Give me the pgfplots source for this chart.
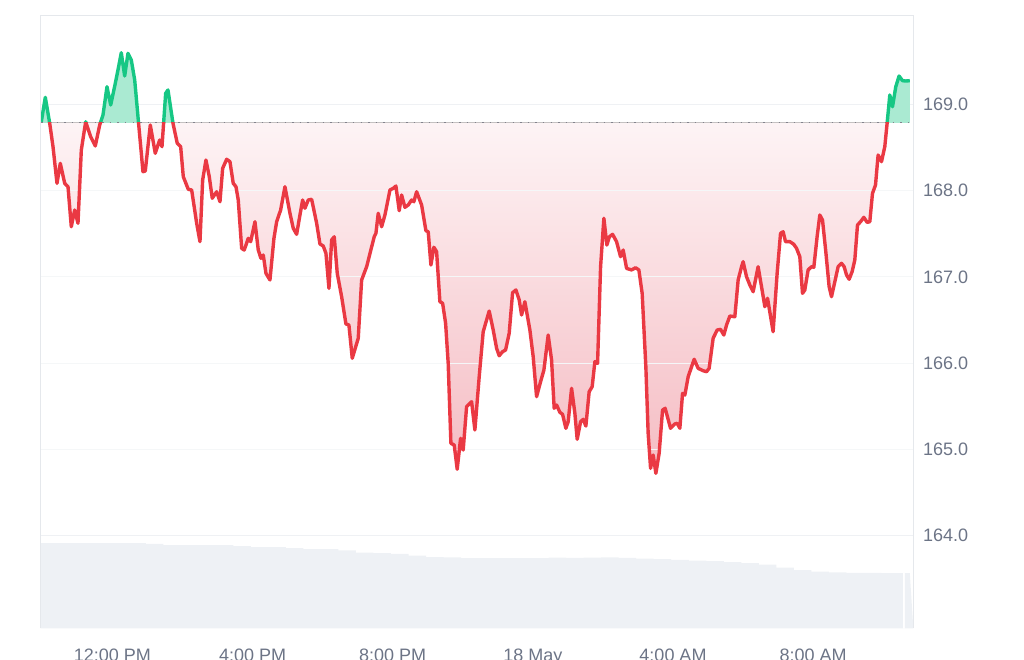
\documentclass[border=0pt]{standalone}
\usepackage{fontspec}
\setmainfont{Liberation Sans}
\usepackage{pgfplots}
\pgfplotsset{compat=1.18}
\usepackage{pgfplotstable}
\usepgfplotslibrary{fillbetween}
\usetikzlibrary{calc}
\definecolor{upgreen}{RGB}{22,199,132}
\definecolor{downred}{RGB}{234,57,67}
\definecolor{redbot}{RGB}{245,188,195}
\definecolor{gridc}{RGB}{239,241,244}
\definecolor{borderc}{RGB}{229,232,236}
\definecolor{labc}{RGB}{108,116,134}
\definecolor{volc}{RGB}{238,241,245}
\definecolor{dotc}{RGB}{130,130,140}

\pgfplotstableread{
h p
9.968 168.798
10.082 169.081
10.208 168.780
10.302 168.509
10.416 168.084
10.510 168.316
10.636 168.084
10.730 168.045
10.824 167.581
10.921 167.775
11.015 167.621
11.110 168.470
11.235 168.798
11.378 168.624
11.509 168.517
11.635 168.760
11.729 168.876
11.843 169.204
11.949 168.992
12.080 169.243
12.157 169.398
12.251 169.598
12.348 169.328
12.442 169.591
12.537 169.513
12.634 169.282
12.728 168.856
12.870 168.219
12.936 168.227
13.079 168.760
13.221 168.432
13.347 168.586
13.413 168.509
13.518 169.127
13.584 169.166
13.727 168.780
13.849 168.548
13.946 168.509
14.021 168.161
14.163 168.015
14.260 168.007
14.403 167.621
14.497 167.408
14.574 168.123
14.668 168.354
14.763 168.161
14.848 167.911
14.974 167.987
15.068 167.871
15.145 168.258
15.259 168.363
15.353 168.335
15.447 168.084
15.525 168.045
15.590 167.891
15.687 167.331
15.761 167.311
15.876 167.447
15.944 167.408
16.067 167.639
16.161 167.311
16.238 167.215
16.304 167.253
16.381 167.041
16.495 166.964
16.609 167.447
16.686 167.639
16.800 167.775
16.923 168.045
17.066 167.737
17.160 167.563
17.257 167.493
17.351 167.717
17.428 167.891
17.494 167.795
17.588 167.891
17.685 167.899
17.828 167.621
17.922 167.381
18.016 167.358
18.093 167.273
18.179 166.867
18.256 167.427
18.330 167.465
18.416 167.041
18.541 166.770
18.664 166.454
18.749 166.442
18.844 166.056
19.015 166.288
19.112 166.964
19.255 167.118
19.471 167.465
19.520 167.505
19.586 167.737
19.683 167.581
19.777 167.717
19.920 168.007
20.014 168.026
20.091 168.053
20.185 167.767
20.253 167.949
20.348 167.806
20.442 167.833
20.539 167.891
20.604 167.871
20.682 167.987
20.824 167.833
20.947 167.535
21.013 167.523
21.090 167.137
21.175 167.343
21.252 167.292
21.346 166.712
21.424 166.694
21.509 166.462
21.583 165.998
21.660 165.071
21.755 165.051
21.840 164.770
21.937 165.129
22.011 164.993
22.108 165.495
22.251 165.553
22.345 165.225
22.468 165.843
22.582 166.364
22.753 166.604
22.868 166.384
22.965 166.172
23.039 166.086
23.136 166.133
23.221 166.152
23.324 166.346
23.421 166.816
23.515 166.848
23.610 166.732
23.678 166.558
23.772 166.712
23.915 166.384
24.009 166.075
24.106 165.611
24.220 165.785
24.315 165.920
24.437 166.326
24.534 166.036
24.608 165.477
24.677 165.515
24.771 165.430
24.848 165.407
24.942 165.245
25.008 165.321
25.105 165.708
25.199 165.419
25.265 165.117
25.362 165.321
25.436 165.349
25.513 165.271
25.607 165.669
25.693 165.727
25.770 166.017
25.847 165.998
25.933 167.118
26.027 167.679
26.112 167.369
26.184 167.465
26.275 167.493
26.389 167.408
26.503 167.234
26.578 167.311
26.675 167.099
26.817 167.080
26.932 167.106
27.026 167.080
27.120 166.809
27.225 165.959
27.291 165.187
27.360 164.781
27.434 164.935
27.511 164.723
27.605 164.955
27.702 165.457
27.776 165.477
27.930 165.245
28.053 165.295
28.119 165.303
28.196 165.245
28.273 165.650
28.339 165.631
28.433 165.843
28.604 166.045
28.718 165.940
28.861 165.912
28.958 165.901
29.032 165.940
29.146 166.288
29.260 166.384
29.357 166.392
29.451 166.326
29.529 166.442
29.623 166.546
29.765 166.538
29.860 166.964
29.957 167.118
30.002 167.176
30.099 167.002
30.193 166.906
30.288 166.828
30.430 167.118
30.527 166.886
30.622 166.654
30.699 166.752
30.858 166.364
30.973 167.041
31.070 167.505
31.144 167.523
31.212 167.408
31.335 167.408
31.449 167.377
31.526 167.331
31.620 167.234
31.697 166.809
31.763 166.848
31.857 167.080
31.954 167.118
32.020 167.111
32.114 167.465
32.191 167.717
32.268 167.659
32.362 167.292
32.457 166.886
32.525 166.770
32.620 166.944
32.714 167.118
32.811 167.157
32.885 167.118
32.954 167.022
33.028 166.972
33.113 167.060
33.190 167.195
33.267 167.601
33.353 167.639
33.447 167.690
33.541 167.632
33.618 167.639
33.695 167.968
33.781 168.065
33.855 168.412
33.952 168.335
34.046 168.509
34.112 168.780
34.189 169.108
34.266 168.972
34.360 169.204
34.454 169.328
34.551 169.274
34.646 169.270
34.760 169.274
}\price

\pgfplotstableread{
h v
9.95 163.915
10.45 163.915
10.95 163.915
11.45 163.915
11.95 163.915
12.45 163.915
12.95 163.905
13.45 163.892
13.95 163.892
14.45 163.892
14.95 163.892
15.45 163.880
15.95 163.869
16.45 163.869
16.95 163.855
17.45 163.846
17.95 163.846
18.45 163.830
18.95 163.805
19.45 163.799
19.95 163.790
20.45 163.770
20.95 163.753
21.45 163.748
21.95 163.741
22.45 163.741
22.95 163.741
23.45 163.741
23.95 163.741
24.45 163.745
24.95 163.742
25.45 163.745
25.95 163.748
26.45 163.742
26.95 163.735
27.45 163.728
27.95 163.720
28.45 163.712
28.95 163.705
29.45 163.695
29.95 163.683
30.45 163.665
30.95 163.630
31.45 163.600
31.95 163.585
32.45 163.575
32.95 163.570
33.45 163.568
33.95 163.567
34.45 163.567
34.56 162.927
34.62 163.567
34.76 163.567
}\volume

\begin{document}
\begin{tikzpicture}
\begin{axis}[
  scale only axis,
  width=872.8pt, height=612.6pt,
  xmin=9.945, xmax=34.86,
  ymin=162.927, ymax=170.027,
  axis line style={draw=none},
  clip mode=individual,
  ytick={164,165,166,167,168,169},
  yticklabels={164.0,165.0,166.0,167.0,168.0,169.0},
  yticklabel pos=right,
  ymajorgrids,
  grid style={gridc, line width=1pt},
  xtick={12,16,20,24,28,32},
  xticklabels={12:00 PM,4:00 PM,8:00 PM,18 May,4:00 AM,8:00 AM},
  major tick length=0pt,
  tick style={draw=none},
  yticklabel style={anchor=west, inner sep=0pt, xshift=9.5pt, font=\fontsize{18}{21}\selectfont, text=labc},
  xticklabel style={anchor=north, inner sep=0pt, yshift=-20pt, font=\fontsize{18}{21}\selectfont, text=labc},
]
% volume
\addplot[const plot, name path=vol, draw=none] table[x=h, y=v] {\volume};
\addplot[name path=vbase, draw=none] coordinates {(9.945,162.927) (34.86,162.927)};
\addplot[fill=volc, draw=none] fill between[of=vol and vbase];

% price areas: red gradient between price and baseline
\addplot[name path=price, draw=none] table[x=h, y=p] {\price};
\addplot[name path=base, draw=none] coordinates {(9.968,168.787) (34.760,168.787)};
\addplot[draw=none, top color=white, bottom color=redbot] fill between[of=price and base];

% grid lines again, over the pink area
\foreach \g in {165,166,167,168} {
  \edef\temp{\noexpand\draw[gridc!60!white, line width=1pt] (axis cs:9.945,\g) -- (axis cs:34.86,\g);}
  \temp
}

% green area above the baseline
\begin{scope}
\clip (axis cs:9,168.787) rectangle (axis cs:36,171);
\addplot[fill=white, draw=none] table[x=h, y=p] {\price} \closedcycle;
\addplot[fill=upgreen, fill opacity=0.36, draw=none] table[x=h, y=p] {\price} \closedcycle;
\end{scope}

% baseline
\addplot[dotc, line width=1.4pt, dash pattern=on 1.4pt off 6.2pt] coordinates {(9.968,168.787) (34.760,168.787)};

% price line, coloured above / below the baseline
\begin{scope}
\clip (axis cs:9,168.787) rectangle (axis cs:36,171);
\addplot[upgreen, line width=3.4pt, line join=round] table[x=h, y=p] {\price};
\end{scope}
\begin{scope}
\clip (axis cs:9,160) rectangle (axis cs:36,168.787);
\addplot[downred, line width=3.4pt, line join=round] table[x=h, y=p] {\price};
\end{scope}

% frame
\draw[borderc, line width=1pt] (rel axis cs:0,0) -- (rel axis cs:0,1) -- (rel axis cs:1,1) -- (rel axis cs:1,0);
\coordinate (bl) at (rel axis cs:0,0);
\coordinate (tr) at (rel axis cs:1,1);
\end{axis}
\pgfresetboundingbox
\path[use as bounding box] ($(bl)+(-40.5pt,-31.7pt)$) rectangle ($(tr)+(110.7pt,15.7pt)$);
\end{tikzpicture}
\end{document}
